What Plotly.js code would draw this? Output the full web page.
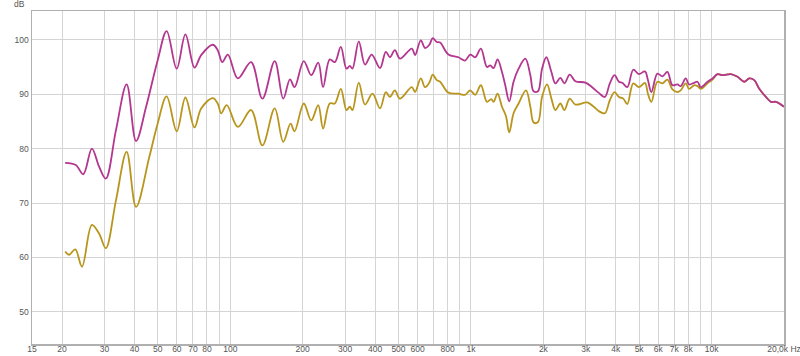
<!DOCTYPE html>
<html>
<head>
<meta charset="utf-8">
<script src="https://cdn.plot.ly/plotly-3.0.1.min.js"></script>
<style>html,body{margin:0;padding:0;background:#fff;}#chart{width:800px;height:356px;}</style>
</head>
<body>
<div id="chart"></div>
<script>
// Magenta series (frequency in Hz, level in dB)
const magentaFreq = [20.6,22.8,24.5,26.6,28.5,30.4,33.5,37.1,40.6,44.7,49.9,54.4,59.9,65.1,71.0,75.7,84.6,88.7,92.6,97.7,107.5,122,136,153,166,177,185,202,217,232,243,259,272,288,304,314,322,342,363,387,419,443,461,483,507,568,586,619,645,672,694,721,745,806,887,946,993,1042,1100,1166,1203,1242,1290,1346,1389,1443,1504,1578,1683,1766,1822,1900,1975,2058,2160,2244,2354,2446,2574,2718,2992,3191,3400,3602,3778,3952,4120,4256,4466,4728,4990,5286,5440,5622,5954,6246,6554,6876,7212,7444,7810,8062,8460,8738,9020,9620,10092,10588,11108,12030,12826,13666,14336,15042,15782,16828,17654,18522,20000];
const magentaDb = [77.4,77.0,75.3,80.0,76.7,74.5,83.4,91.8,81.4,87.7,96.2,101.6,94.7,101.0,94.9,97.2,99.1,98.1,95.9,97.3,92.9,95.9,89.2,96.1,89.2,92.75,91.3,96.1,93.5,95.8,91.3,96.4,95.9,98.7,94.7,95.2,94.7,99.7,95.45,97.3,94.8,97.8,96.8,98.1,96.55,98.4,97.2,99.9,98.5,99.1,100.3,99.6,99.5,97.3,96.8,96.2,97.3,96.8,98.4,95.0,95.3,94.8,96.4,94.1,91.65,88.7,92.3,94.7,96.55,93.5,90.55,90.55,94.7,96.8,94.1,92.0,93.0,92.0,93.6,92.4,92.15,91.3,90.25,89.5,92.0,93.5,92.3,92.1,91.3,94.5,93.7,94.2,92.6,90.4,93.8,93.3,94.1,91.65,91.8,91.5,92.9,91.8,92.1,92.3,91.3,92.3,92.9,93.7,93.5,93.7,93.2,92.3,92.9,92.6,91.0,89.5,88.6,88.6,87.7];

// Gold series
const goldFreq = [20.6,21.4,22.7,24.2,26.6,28.5,30.4,33.5,37.1,40.6,46.1,49.9,54.4,59.9,65.1,71.0,75.7,84.6,88.7,91.7,96.7,107.5,122,136,153,166,178,185,202,217,232,243,259,272,288,304,314,322,342,363,390,419,443,461,483,507,568,586,619,645,672,694,721,745,806,887,946,993,1042,1100,1166,1214,1242,1290,1346,1398,1443,1504,1578,1694,1766,1822,1900,1975,2072,2160,2244,2354,2446,2574,2718,3042,3240,3400,3602,3778,3952,4120,4296,4466,4728,4990,5286,5440,5622,5954,6246,6554,6876,7212,7444,7810,8062,8460,8738,9020,9620,10092,10588,11108,12030,12826,13666,14336,15042,15782,16828,17654,18522,20000];
const goldDb = [61.1,60.5,61.5,58.3,66.0,64.4,61.7,70.5,79.4,69.3,78.5,84.6,89.6,83.2,89.4,83.9,87.4,89.3,88.3,86.5,88.0,84.0,87.1,80.6,87.4,81.25,84.6,83.2,88.3,85.2,88.0,83.7,88.3,88.3,91.0,87.1,87.7,87.1,92.15,88.1,90.1,87.4,90.4,89.5,90.7,89.2,91.3,90.4,92.9,91.3,92.15,93.6,92.6,92.3,90.3,90.1,89.9,90.7,89.9,91.65,88.6,89.1,88.6,90.1,87.7,86.0,83.0,86.5,88.3,90.7,87.7,84.8,84.9,89.5,91.8,89.2,87.1,88.3,87.1,89.2,88.1,88.5,87.7,86.9,86.5,88.9,90.4,89.5,89.2,88.2,92.0,91.3,92.1,90.1,88.6,92.3,92.0,92.7,90.9,90.4,90.7,92.0,91.0,91.65,91.5,91.0,92.0,92.7,93.7,93.5,93.7,93.2,92.3,92.9,92.6,91.0,89.5,88.6,88.6,87.7];

// Axis ticks
const xTickVals = [15,20,30,40,50,60,70,80,90,100,200,300,400,500,600,700,800,900,1000,2000,3000,4000,5000,6000,7000,8000,9000,10000,20000];
const xTickText = ['15','20','30','40','50','60','70','80','','100','200','300','400','500','600','','800','','1k','2k','3k','4k','5k','6k','7k','8k','','10k','20,0k Hz'];
const yTickVals = [50,60,70,80,90,100];

const traces = [
  {x: goldFreq, y: goldDb, type: 'scatter', mode: 'lines',
   line: {color: '#b8961e', width: 1.8, shape: 'spline', smoothing: 1}, hoverinfo: 'skip'},
  {x: magentaFreq, y: magentaDb, type: 'scatter', mode: 'lines',
   line: {color: '#b3368f', width: 1.8, shape: 'spline', smoothing: 1}, hoverinfo: 'skip'}
];

const layout = {
  width: 800, height: 356,
  margin: {l: 32, r: 16, t: 11, b: 12},
  paper_bgcolor: '#ffffff', plot_bgcolor: '#ffffff',
  showlegend: false,
  font: {family: 'Liberation Sans, Arial, sans-serif', size: 8.5, color: '#555'},
  xaxis: {
    type: 'log', range: [Math.log10(15), Math.log10(20000)],
    tickmode: 'array', tickvals: xTickVals, ticktext: xTickText,
    showgrid: true, gridcolor: '#d4d4d4', gridwidth: 1,
    showline: true, linecolor: '#b0b0b0', linewidth: 1.5, mirror: true,
    ticks: '', zeroline: false,
    ticklabelstandoff: -4, ticklabeloverflow: 'allow'
  },
  yaxis: {
    range: [44.1, 105.3],
    tickmode: 'array', tickvals: yTickVals,
    showgrid: true, gridcolor: '#d4d4d4', gridwidth: 1,
    showline: true, linecolor: '#b0b0b0', linewidth: 1.5, mirror: true,
    ticks: '', zeroline: false
  },
  annotations: [{
    text: 'dB', xref: 'paper', yref: 'paper', x: -0.016, y: 1.021,
    xanchor: 'center', yanchor: 'middle', showarrow: false,
    font: {size: 8.5, color: '#555'}
  }]
};

Plotly.newPlot('chart', traces, layout, {staticPlot: true, displayModeBar: false});
</script>
</body>
</html>
